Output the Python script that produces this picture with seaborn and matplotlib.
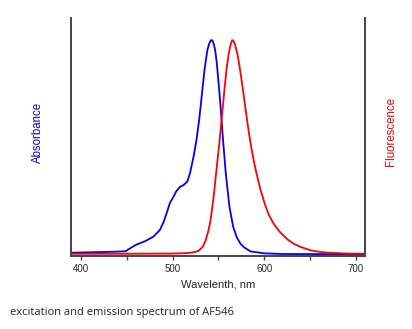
import numpy as np
import pandas as pd
import matplotlib
matplotlib.use("Agg")
import matplotlib.pyplot as plt
import seaborn as sns

# Absorbance (excitation) spectrum, normalized
abs_wl = [390, 400, 420, 440, 449, 451, 460, 470, 479, 486, 490, 494, 497, 501, 504, 508, 512,
          516, 519, 523, 526, 529, 532, 535, 538, 540, 541.5, 542.5, 543.5, 545, 546.5, 548,
          551, 553, 555, 558, 562, 566, 570, 574, 578, 585, 600, 620, 710]
abs_val = [0.008, 0.009, 0.011, 0.013, 0.015, 0.022, 0.045, 0.062, 0.083, 0.114, 0.15, 0.20,
           0.24, 0.27, 0.295, 0.315, 0.324, 0.34, 0.38, 0.46, 0.534, 0.63, 0.75, 0.87, 0.955,
           0.985, 0.998, 1.0, 0.997, 0.98, 0.95, 0.90, 0.76, 0.65, 0.534, 0.378, 0.223, 0.13,
           0.08, 0.05, 0.033, 0.014, 0.005, 0.002, 0.001]

# Fluorescence (emission) spectrum, normalized
em_wl = [390, 450, 500, 515, 522, 528, 533, 536, 539, 541, 543, 545, 547, 549, 551, 553, 555,
         557, 559, 561, 563, 565, 566.5, 568, 571, 574, 577, 580, 583, 586, 589, 592, 596, 601,
         605, 610, 617, 626, 632, 639, 650, 660, 670, 690, 710]
em_val = [0.003, 0.003, 0.004, 0.006, 0.009, 0.016, 0.036, 0.065, 0.11, 0.15, 0.21, 0.28,
          0.36, 0.44, 0.52, 0.61, 0.70, 0.79, 0.87, 0.93, 0.975, 1.0, 0.995, 0.98, 0.93, 0.85,
          0.76, 0.665, 0.575, 0.495, 0.428, 0.37, 0.30, 0.23, 0.185, 0.145, 0.105, 0.068, 0.05,
          0.036, 0.02, 0.012, 0.008, 0.004, 0.003]

x_ticks = [400, 500, 600, 700]
x_minor = [450, 550, 650]

sns.set_theme(style="white")
plt.rcParams['font.family'] = ['Liberation Sans', 'DejaVu Sans']

fig = plt.figure(figsize=(4.12, 3.29), dpi=100)
ax_bottom_px, ax_top_px = 255.5, 18
ax = fig.add_axes([71/412, (329-ax_bottom_px)/329, (365-71)/412, (ax_bottom_px-ax_top_px)/329])

df_abs = pd.DataFrame({"wl": abs_wl, "v": abs_val})
df_em = pd.DataFrame({"wl": em_wl, "v": em_val})

sns.lineplot(data=df_abs, x="wl", y="v", ax=ax, color="#0000ff", lw=1.3,
             estimator=None, sort=False)
ax2 = ax.twinx()
sns.lineplot(data=df_em, x="wl", y="v", ax=ax2, color="#ff0000", lw=1.3,
             estimator=None, sort=False)

for a in (ax, ax2):
    a.set_xlim(389, 710)
    a.set_ylim(-0.005, 1.103)
    a.set_yticks([])
    a.set_ylabel("")
    for s in a.spines.values():
        s.set_color("#444444")
        s.set_linewidth(1.2)
    a.spines["top"].set_visible(False)

ax.set_xticks(x_ticks)
ax.set_xticks(x_minor, minor=True)
ax.tick_params(axis="x", which="both", direction="out", length=3, width=1,
               color="#444444", labelsize=7, pad=3, bottom=True)
ax.set_xlabel("Wavelenth, nm", fontsize=8, labelpad=4)

fig.text(38.3/412, 1 - 132.5/329, "Absorbance", color="#0000ff", fontsize=8.3,
         rotation=90, ha="center", va="center")
fig.text(390.7/412, 1 - 131.5/329, "Fluorescence", color="#ff0000", fontsize=8.3,
         rotation=90, ha="center", va="center")

fig.text(10/412, 1 - 313/329, "excitation and emission spectrum of AF546",
         fontsize=8, color="#222222", family=["Open Sans", "DejaVu Sans"],
         va="center", ha="left")

fig.savefig("out.png", dpi=100)
